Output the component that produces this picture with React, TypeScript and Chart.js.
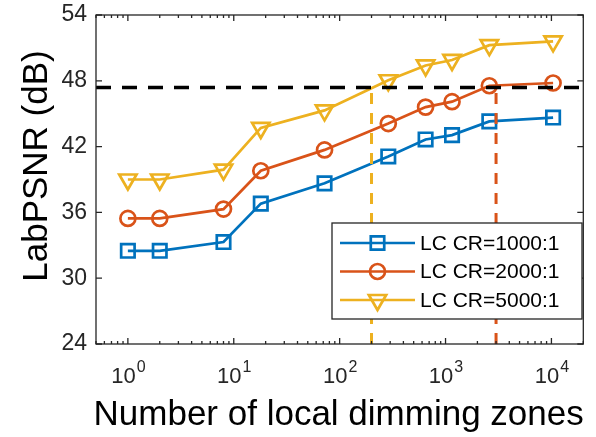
import { useEffect, useRef } from 'react';
import { Chart, registerables } from 'chart.js';
import { drawPoint } from 'chart.js/helpers';

Chart.register(...registerables);

// Number of local dimming zones (x) and Lab PSNR in dB for each LC contrast ratio
const ZONES = [1, 2, 8, 18, 72, 288, 648, 1152, 2592, 10368];
const PSNR_CR1000 = [32.5, 32.5, 33.3, 36.8, 38.65, 41.1, 42.65, 43.05, 44.3, 44.65];
const PSNR_CR2000 = [35.45, 35.45, 36.3, 39.8, 41.7, 44.1, 45.6, 46.1, 47.55, 47.8];
const PSNR_CR5000 = [39.0, 39.0, 39.9, 43.7, 45.3, 48.05, 49.4, 49.9, 51.25, 51.6];
const SERIES_LABELS = ['LC CR=1000:1', 'LC CR=2000:1', 'LC CR=5000:1'];

// Target quality level and the zone counts where it is reached
const TARGET_PSNR = 47.4;
const ZONES_AT_TARGET_CR5000 = 200;
const ZONES_AT_TARGET_CR2000 = 3000;

// Axis ranges and ticks
const X_MIN = 0.5;
const X_MAX = 20000;
const X_DECADES = [0, 1, 2, 3, 4];
const Y_MIN = 24;
const Y_MAX = 54;
const Y_STEP = 6;

const X_TITLE = 'Number of local dimming zones';
const Y_TITLE = 'LabPSNR (dB)';

const BLUE = '#0072BD';
const RED = '#D95319';
const YELLOW = '#EDB120';
const AXIS_COLOR = '#262626';
const FONT = '"Liberation Sans", Arial, sans-serif';

const pts = (ys: number[]) => ZONES.map((x, i) => ({ x, y: ys[i] }));

const SERIES_STYLE = [
  { color: BLUE, pointStyle: 'rect', radius: 9.5, rotation: 0 },
  { color: RED, pointStyle: 'circle', radius: 7.5, rotation: 0 },
  { color: YELLOW, pointStyle: 'triangle', radius: 10, rotation: 180 },
];

const axesPlugin = {
  id: 'matlabAxes',
  afterDatasetsDraw(chart: any) {
    const { ctx, chartArea: a, scales } = chart;
    const xs = scales.x;
    const ys = scales.y;
    ctx.save();
    ctx.strokeStyle = AXIS_COLOR;
    ctx.lineWidth = 1.3;
    ctx.strokeRect(a.left, a.top, a.right - a.left, a.bottom - a.top);

    // y ticks, inward on both sides
    for (let v = Y_MIN; v <= Y_MAX; v += Y_STEP) {
      const py = ys.getPixelForValue(v);
      ctx.beginPath();
      ctx.moveTo(a.left, py);
      ctx.lineTo(a.left + 6, py);
      ctx.moveTo(a.right, py);
      ctx.lineTo(a.right - 6, py);
      ctx.stroke();
    }
    // x major and minor log ticks, inward on top and bottom
    for (let k = -1; k <= 4; k++) {
      for (let m = 1; m <= 9; m++) {
        const v = m * Math.pow(10, k);
        if (v < X_MIN || v > X_MAX) continue;
        const px = xs.getPixelForValue(v);
        const len = m === 1 ? 6 : 3;
        ctx.beginPath();
        ctx.moveTo(px, a.bottom);
        ctx.lineTo(px, a.bottom - len);
        ctx.moveTo(px, a.top);
        ctx.lineTo(px, a.top + len);
        ctx.stroke();
      }
    }

    // x tick labels as powers of ten
    ctx.fillStyle = AXIS_COLOR;
    ctx.textBaseline = 'alphabetic';
    ctx.textAlign = 'left';
    for (const k of X_DECADES) {
      const px = xs.getPixelForValue(Math.pow(10, k));
      ctx.font = `22px ${FONT}`;
      const wBase = ctx.measureText('10').width;
      ctx.font = `16px ${FONT}`;
      const wExp = ctx.measureText(String(k)).width;
      const start = px - (wBase + wExp) / 2;
      ctx.font = `22px ${FONT}`;
      ctx.fillText('10', start, a.bottom + 39);
      ctx.font = `16px ${FONT}`;
      ctx.fillText(String(k), start + wBase + 1, a.bottom + 28);
    }

    // axis titles
    ctx.fillStyle = '#000';
    ctx.font = `35px ${FONT}`;
    ctx.textAlign = 'center';
    ctx.fillText(X_TITLE, (a.left + a.right) / 2 - 1, 425);
    ctx.save();
    ctx.translate(47, 166);
    ctx.rotate(-Math.PI / 2);
    ctx.fillText(Y_TITLE, 0, 0);
    ctx.restore();
    ctx.restore();
  },
  afterDraw(chart: any) {
    const { ctx } = chart;
    const box = { left: 332, top: 223, right: 582, bottom: 319 };
    const rowY = [243, 271.5, 300];
    ctx.save();
    ctx.fillStyle = '#fff';
    ctx.fillRect(box.left, box.top, box.right - box.left, box.bottom - box.top);
    ctx.strokeStyle = AXIS_COLOR;
    ctx.lineWidth = 1.3;
    ctx.strokeRect(box.left, box.top, box.right - box.left, box.bottom - box.top);
    SERIES_LABELS.forEach((label, i) => {
      const st = SERIES_STYLE[i];
      const y = rowY[i];
      ctx.strokeStyle = st.color;
      ctx.lineWidth = 2.7;
      ctx.beginPath();
      ctx.moveTo(340, y);
      ctx.lineTo(415, y);
      ctx.stroke();
      ctx.fillStyle = 'rgba(0,0,0,0)';
      drawPoint(ctx, {
        pointStyle: st.pointStyle,
        radius: st.radius,
        rotation: st.rotation,
        borderWidth: 2.7,
      } as any, 377.5, y);
      ctx.fillStyle = '#000';
      ctx.font = `21px ${FONT}`;
      ctx.textAlign = 'left';
      ctx.textBaseline = 'middle';
      ctx.fillText(label, 420, y + 1);
    });
    ctx.restore();
  },
};

export default function App() {
  const canvasRef = useRef<HTMLCanvasElement | null>(null);

  useEffect(() => {
    const canvas = canvasRef.current;
    if (!canvas) return;

    const seriesData = [PSNR_CR1000, PSNR_CR2000, PSNR_CR5000];
    const seriesSets = seriesData.map((ys, i) => {
      const st = SERIES_STYLE[i];
      return {
        label: SERIES_LABELS[i],
        data: pts(ys),
        borderColor: st.color,
        borderWidth: 2.7,
        backgroundColor: 'rgba(0,0,0,0)',
        pointStyle: st.pointStyle,
        pointRadius: st.radius,
        pointRotation: st.rotation,
        pointBorderColor: st.color,
        pointBackgroundColor: 'rgba(0,0,0,0)',
        pointBorderWidth: 2.7,
        tension: 0,
        order: 2,
      };
    });

    const refSets = [
      {
        label: 'target',
        data: [
          { x: X_MIN, y: TARGET_PSNR },
          { x: X_MAX, y: TARGET_PSNR },
        ],
        borderColor: '#000',
        borderWidth: 3.5,
        borderDash: [15, 11],
        pointRadius: 0,
        order: 0,
      },
      {
        label: 'cr5000 zones',
        data: [
          { x: ZONES_AT_TARGET_CR5000, y: Y_MIN },
          { x: ZONES_AT_TARGET_CR5000, y: TARGET_PSNR },
        ],
        borderColor: YELLOW,
        borderWidth: 3,
        borderDash: [11, 9],
        pointRadius: 0,
        order: 1,
      },
      {
        label: 'cr2000 zones',
        data: [
          { x: ZONES_AT_TARGET_CR2000, y: Y_MIN },
          { x: ZONES_AT_TARGET_CR2000, y: TARGET_PSNR },
        ],
        borderColor: RED,
        borderWidth: 3,
        borderDash: [11, 9],
        pointRadius: 0,
        order: 1,
      },
    ];

    const chart = new Chart(canvas, {
      type: 'line',
      data: { datasets: [...refSets, ...seriesSets] as any },
      options: {
        responsive: false,
        animation: false,
        events: [],
        layout: { padding: { top: 15, right: 11, left: 0, bottom: 0 } },
        plugins: { legend: { display: false }, tooltip: { enabled: false } },
        scales: {
          x: {
            type: 'logarithmic',
            min: X_MIN,
            max: X_MAX,
            bounds: 'data',
            grid: { display: false, drawTicks: false },
            border: { display: false },
            ticks: { display: false },
            afterFit: (s: any) => {
              s.height = 93;
              s.paddingLeft = 0;
              s.paddingRight = 0;
            },
          },
          y: {
            type: 'linear',
            min: Y_MIN,
            max: Y_MAX,
            grid: { display: false, drawTicks: false },
            border: { display: false },
            ticks: {
              stepSize: Y_STEP,
              padding: 9,
              color: AXIS_COLOR,
              font: { family: FONT, size: 23 },
            },
            afterFit: (s: any) => {
              s.width = 96;
              s.paddingTop = 0;
              s.paddingBottom = 0;
            },
          },
        },
      } as any,
      plugins: [axesPlugin],
    });

    return () => chart.destroy();
  }, []);

  return (
    <div style={{ position: 'fixed', left: 0, top: 0, width: 596, height: 437, background: '#fff' }}>
      <canvas ref={canvasRef} width={596} height={437} style={{ width: 596, height: 437, display: 'block' }} />
    </div>
  );
}
